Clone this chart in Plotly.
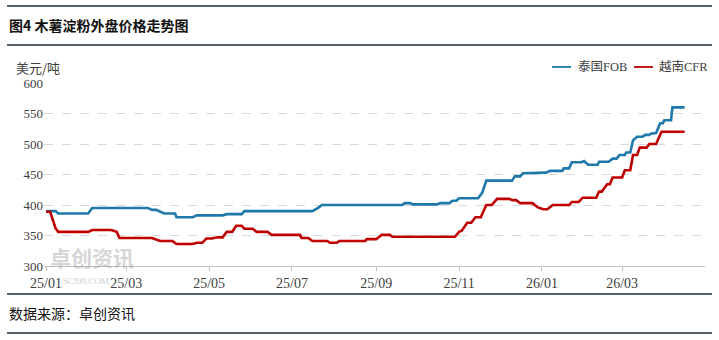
import plotly.graph_objects as go

# Thailand FOB cassava starch offer (USD/t)
thai_dates = [
    "2025-01-01", "2025-01-08", "2025-01-10", "2025-02-01", "2025-02-04",
    "2025-03-17", "2025-03-20", "2025-03-23", "2025-03-29", "2025-04-06",
    "2025-04-07", "2025-04-19", "2025-04-22", "2025-05-11", "2025-05-14",
    "2025-05-25", "2025-05-27", "2025-07-16", "2025-07-20", "2025-07-23",
    "2025-09-20", "2025-09-22", "2025-09-26", "2025-09-28", "2025-10-16",
    "2025-10-18", "2025-10-25", "2025-10-27", "2025-10-30", "2025-11-01",
    "2025-11-15", "2025-11-16", "2025-11-18", "2025-11-21", "2025-12-10",
    "2025-12-12", "2025-12-16", "2025-12-18", "2026-01-04", "2026-01-07",
    "2026-01-16", "2026-01-17", "2026-01-21", "2026-01-23", "2026-01-30",
    "2026-02-01", "2026-02-04", "2026-02-11", "2026-02-12", "2026-02-19",
    "2026-02-22", "2026-02-25", "2026-02-27", "2026-03-03", "2026-03-04",
    "2026-03-07", "2026-03-09", "2026-03-12", "2026-03-16", "2026-03-18",
    "2026-03-21", "2026-03-22", "2026-03-26", "2026-03-29", "2026-03-31",
    "2026-04-01", "2026-04-06", "2026-04-07", "2026-04-16",
]
thai_fob = [
    390, 390, 386, 386, 395,
    395, 392, 392, 386, 386,
    380, 380, 383, 383, 385,
    385, 390, 390, 395, 400,
    400, 403, 403, 401, 401,
    403, 403, 407, 407, 411,
    411, 414, 420, 440, 440,
    447, 447, 452, 453, 456,
    456, 460, 460, 470, 470,
    472, 466, 466, 471, 471,
    476, 476, 482, 482, 486,
    486, 506, 512, 512, 515,
    515, 517, 518, 534, 534,
    539, 539, 560, 560,
]

# Vietnam CFR cassava starch offer (USD/t)
vn_dates = [
    "2025-01-01", "2025-01-04", "2025-01-08", "2025-01-10", "2025-02-01",
    "2025-02-04", "2025-02-18", "2025-02-22", "2025-02-24", "2025-03-20",
    "2025-03-26", "2025-04-04", "2025-04-07", "2025-04-19", "2025-04-22",
    "2025-04-26", "2025-04-29", "2025-05-03", "2025-05-07", "2025-05-11",
    "2025-05-14", "2025-05-18", "2025-05-21", "2025-05-25", "2025-05-27",
    "2025-06-02", "2025-06-05", "2025-06-13", "2025-06-16", "2025-07-07",
    "2025-07-08", "2025-07-13", "2025-07-16", "2025-07-27", "2025-07-29",
    "2025-08-03", "2025-08-05", "2025-08-24", "2025-08-25", "2025-09-01",
    "2025-09-05", "2025-09-11", "2025-09-13", "2025-10-29", "2025-11-01",
    "2025-11-03", "2025-11-07", "2025-11-10", "2025-11-13", "2025-11-17",
    "2025-11-21", "2025-11-25", "2025-11-29", "2025-12-08", "2025-12-10",
    "2025-12-13", "2025-12-16", "2025-12-25", "2025-12-29", "2026-01-02",
    "2026-01-05", "2026-01-09", "2026-01-21", "2026-01-23", "2026-01-28",
    "2026-01-31", "2026-02-10", "2026-02-12", "2026-02-14", "2026-02-18",
    "2026-02-20", "2026-02-22", "2026-03-01", "2026-03-03", "2026-03-07",
    "2026-03-09", "2026-03-12", "2026-03-14", "2026-03-19", "2026-03-21",
    "2026-03-26", "2026-03-30", "2026-04-16",
]
vn_cfr = [
    389, 389, 362, 356, 356,
    359, 359, 356, 346, 346,
    341, 341, 336, 336, 338,
    338, 345, 345, 347, 347,
    356, 356, 366, 366, 361,
    361, 356, 356, 351, 351,
    346, 346, 341, 341, 338,
    338, 341, 341, 344, 344,
    351, 351, 348, 348, 356,
    358, 371, 371, 380, 380,
    400, 400, 410, 410, 408,
    408, 403, 403, 396, 393,
    393, 400, 400, 405, 405,
    412, 412, 422, 422, 434,
    434, 445, 445, 457, 457,
    482, 482, 494, 494, 500,
    500, 520, 520,
]

tick_dates = ["2025-01-01", "2025-03-01", "2025-05-01", "2025-07-01",
              "2025-09-01", "2025-11-01", "2026-01-01", "2026-03-01"]
tick_labels = ["25/01", "25/03", "25/05", "25/07", "25/09", "25/11", "26/01", "26/03"]
y_ticks = [300, 350, 400, 450, 500, 550, 600]

series_names = ["泰国FOB", "越南CFR"]
series_colors = ["#1f78aa", "#c00000"]

NUM_FONT = "Liberation Serif, Noto Sans CJK SC, serif"
CJK_FONT = "Noto Sans CJK SC, sans-serif"

fig = go.Figure()
for name, xs, ys, color in zip(series_names, [thai_dates, vn_dates],
                               [thai_fob, vn_cfr], series_colors):
    fig.add_trace(go.Scatter(
        x=xs, y=ys, mode="lines", name=name,
        line=dict(color=color, width=2.6),
        hoverinfo="x+y+name",
    ))

fig.update_layout(
    width=719, height=340,
    margin=dict(l=44, r=14, t=83, b=74),
    paper_bgcolor="white", plot_bgcolor="white",
    showlegend=False,
    font=dict(family=NUM_FONT, size=12, color="#404040"),
)

fig.update_xaxes(
    type="date",
    range=["2024-12-30 12:00", "2026-05-01"],
    tickvals=tick_dates, ticktext=tick_labels,
    showgrid=False, zeroline=False,
    showline=True, linecolor="#bfbfbf", linewidth=1,
    ticks="outside", ticklen=4, tickcolor="#bfbfbf",
    tickfont=dict(family=NUM_FONT, size=14, color="#404040"),
)
fig.update_yaxes(
    range=[300, 600],
    tickvals=y_ticks,
    showgrid=True, gridcolor="#d9d9d9", griddash="dash", gridwidth=1,
    zeroline=False, showline=False, ticks="",
    tickfont=dict(family=NUM_FONT, size=13, color="#404040"),
)


def px(xp, yp):
    """Pixel coords -> paper coords for the plot area."""
    return (xp - 44) / 661, (340 - 74 - yp) / 183


# Header / footer rules
for ypx in [6, 45, 294, 333]:
    x0, yp = px(7, ypx)
    x1, _ = px(712, ypx)
    fig.add_shape(type="line", xref="paper", yref="paper",
                  x0=x0, x1=x1, y0=yp, y1=yp,
                  line=dict(color="#1c2b3a", width=1.5))


def text(xp, yp, s, size, color="#000000", family=CJK_FONT, xanchor="left", opacity=1.0):
    x, y = px(xp, yp)
    fig.add_annotation(x=x, y=y, xref="paper", yref="paper", text=s,
                       showarrow=False, xanchor=xanchor, yanchor="middle",
                       font=dict(family=family, size=size, color=color),
                       opacity=opacity)


text(7, 25, "<b>图4 木薯淀粉外盘价格走势图</b>", 14, "#111111")
text(7, 313, "数据来源：卓创资讯", 14, "#111111")
text(14, 68, "美元/吨", 13, "#404040")

# Watermark
text(48, 257, "<b>卓创资讯</b>", 21, "#9a9a9a", opacity=0.4)
text(86, 281, "SCI99.COM", 9, "#9a9a9a", family=NUM_FONT, xanchor="center", opacity=0.5)

# Legend
legend_items = [(552, 576), (634, 657)]
for (lx, tx), name, color in zip(legend_items, series_names, series_colors):
    x0, y0 = px(lx, 67)
    x1, _ = px(lx + 19, 67)
    fig.add_shape(type="line", xref="paper", yref="paper", x0=x0, x1=x1,
                  y0=y0, y1=y0, line=dict(color=color, width=1.8))
    text(tx, 67, name, 12.5, "#404040", family=NUM_FONT)

fig.write_html("out.html")
